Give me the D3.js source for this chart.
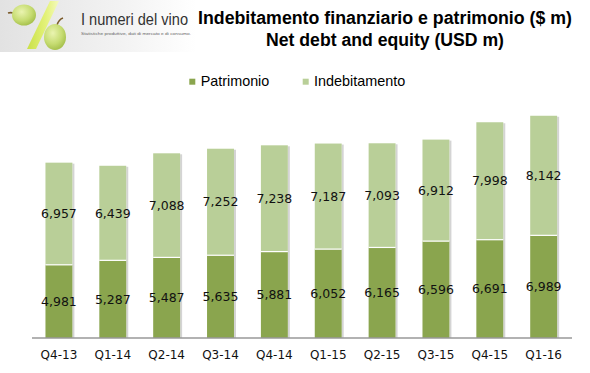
<!DOCTYPE html>
<html><head><meta charset="utf-8">
<script src="https://cdn.jsdelivr.net/npm/d3@7/dist/d3.min.js"></script>
<style>
html,body{margin:0;padding:0;background:#fff;}
svg{display:block;}
</style></head>
<body>
<svg id="chart" width="590" height="373"></svg>
<script>
const categories = ["Q4-13","Q1-14","Q2-14","Q3-14","Q4-14","Q1-15","Q2-15","Q3-15","Q4-15","Q1-16"];
const patrimonio = [4981,5287,5487,5635,5881,6052,6165,6596,6691,6989];
const indebitamento = [6957,6439,7088,7252,7238,7187,7093,6912,7998,8142];
const seriesNames = ["Patrimonio","Indebitamento"];
const titleLines = ["Indebitamento finanziario e patrimonio ($ m)","Net debt and equity (USD m)"];

const colors = {Patrimonio:"#8aa54e", Indebitamento:"#b9cf98"};
const svg = d3.select("#chart");

// ---- logo ----
const defs = svg.append("defs");
const bg = defs.append("linearGradient").attr("id","logobg").attr("x1","0").attr("x2","1").attr("y1","0").attr("y2","0");
bg.append("stop").attr("offset","0").attr("stop-color","#e2e2e2");
bg.append("stop").attr("offset","0.6").attr("stop-color","#f2f2f2");
bg.append("stop").attr("offset","1").attr("stop-color","#ffffff");
const grape = defs.append("radialGradient").attr("id","grape").attr("cx","0.4").attr("cy","0.35").attr("r","0.7");
grape.append("stop").attr("offset","0").attr("stop-color","#eaf4b0");
grape.append("stop").attr("offset","0.6").attr("stop-color","#c6dc72");
grape.append("stop").attr("offset","1").attr("stop-color","#a2bd48");
const slash = defs.append("linearGradient").attr("id","slash").attr("x1","0").attr("x2","1").attr("y1","0").attr("y2","0");
slash.append("stop").attr("offset","0").attr("stop-color","#c9e048");
slash.append("stop").attr("offset","0.6").attr("stop-color","#e4f27a");
slash.append("stop").attr("offset","1").attr("stop-color","#f4fac0");

const logo = svg.append("g");
logo.append("rect").attr("x",0).attr("y",0).attr("width",196).attr("height",52).attr("fill","url(#logobg)");
logo.append("path").attr("d","M50,1 L59,1 L36,49 L27,49 Z").attr("fill","url(#slash)");
logo.append("path").attr("d","M8,13 C11,12 14,13 16,14").attr("stroke","#7a5a2a").attr("stroke-width",1.6).attr("fill","none");
logo.append("ellipse").attr("cx",24).attr("cy",15).attr("rx",12).attr("ry",10.5).attr("fill","url(#grape)");
logo.append("path").attr("d","M57,25 C58,22 60,19 63,18").attr("stroke","#7a5a2a").attr("stroke-width",1.6).attr("fill","none");
logo.append("ellipse").attr("cx",55).attr("cy",37).attr("rx",11).attr("ry",13).attr("fill","url(#grape)");
logo.append("text").attr("x",81).attr("y",25).attr("font-family","'Liberation Sans',Arial,sans-serif")
  .attr("font-size",16.5).attr("fill","#333").attr("textLength",107).attr("lengthAdjust","spacingAndGlyphs").text("I numeri del vino");
logo.append("text").attr("x",81).attr("y",35).attr("font-family","'Liberation Sans',Arial,sans-serif")
  .attr("font-size",4.2).attr("fill","#666").attr("textLength",110).attr("lengthAdjust","spacingAndGlyphs").text("Statistiche produttive, dati di mercato e di consumo.");

// ---- title ----
const titleFont = "'Liberation Sans Narrow','Liberation Sans',Arial,sans-serif";
svg.append("text").attr("x",198).attr("y",23.5).attr("font-family",titleFont).attr("font-weight","bold")
  .attr("font-size",18).attr("fill","#000").attr("textLength",374).attr("lengthAdjust","spacingAndGlyphs").text(titleLines[0]);
svg.append("text").attr("x",266).attr("y",45.5).attr("font-family",titleFont).attr("font-weight","bold")
  .attr("font-size",18).attr("fill","#000").attr("textLength",238).attr("lengthAdjust","spacingAndGlyphs").text(titleLines[1]);

// ---- legend ----
const legendPos = [{sx:189.3, tx:200.7, tw:68.6},{sx:302.7, tx:314, tw:91.3}];
seriesNames.forEach((name,i)=>{
  const p = legendPos[i];
  svg.append("rect").attr("x",p.sx).attr("y",78.7).attr("width",6).attr("height",6).attr("fill",colors[name]);
  svg.append("text").attr("x",p.tx).attr("y",86).attr("font-family","'Liberation Sans',Arial,sans-serif")
    .attr("font-size",14.5).attr("fill","#000").attr("textLength",p.tw).attr("lengthAdjust","spacingAndGlyphs").text(name);
});

// ---- chart ----
const x = d3.scaleBand().domain(categories).range([32,570.6]).paddingInner(0.5).paddingOuter(0.25);
const y = d3.scaleLinear().domain([0,16000]).range([338,103]);

const data = categories.map((c,i)=>({cat:c, Patrimonio:patrimonio[i], Indebitamento:indebitamento[i]}));
const stack = d3.stack().keys(seriesNames)(data);

// shadows
const shadowG = svg.append("g");
data.forEach(d=>{
  const top = y(d.Patrimonio + d.Indebitamento);
  shadowG.append("rect").attr("x",x(d.cat)+x.bandwidth()).attr("y",top+1).attr("width",2)
    .attr("height",y(0)-top-1).attr("fill","#d4d4d4");
});

const layers = svg.append("g").selectAll("g").data(stack).join("g").attr("fill",s=>colors[s.key]);
layers.selectAll("rect").data(s=>s.map(v=>({v, key:s.key}))).join("rect")
  .attr("x",d=>x(d.v.data.cat))
  .attr("width",x.bandwidth())
  .attr("y",d=>y(d.v[1]))
  .attr("height",d=>y(d.v[0])-y(d.v[1]));

// white separators
svg.append("g").selectAll("line").data(data).join("line")
  .attr("x1",d=>x(d.cat)).attr("x2",d=>x(d.cat)+x.bandwidth())
  .attr("y1",d=>y(d.Patrimonio)).attr("y2",d=>y(d.Patrimonio))
  .attr("stroke","#fff").attr("stroke-width",1.2);

// value labels
const fmt = d3.format(",");
const lblG = svg.append("g").attr("font-family","'DejaVu Sans',Verdana,sans-serif").attr("font-size",12.5).attr("fill","#111").attr("text-anchor","middle");
stack.forEach(s=>{
  s.forEach(v=>{
    lblG.append("text").attr("x",x(v.data.cat)+x.bandwidth()/2)
      .attr("y",(y(v[0])+y(v[1]))/2).attr("dy","0.36em").text(fmt(v[1]-v[0]));
  });
});

// axis
const axis = svg.append("g").attr("transform","translate(0,338)")
  .call(d3.axisBottom(x).tickSize(0).tickPadding(12));
axis.select(".domain").attr("stroke","#999").attr("stroke-width",1.5).attr("d","M32,0H572");
axis.selectAll("text").attr("font-family","'DejaVu Sans',Verdana,sans-serif").attr("font-size",12).attr("fill","#111");
</script>
</body></html>
